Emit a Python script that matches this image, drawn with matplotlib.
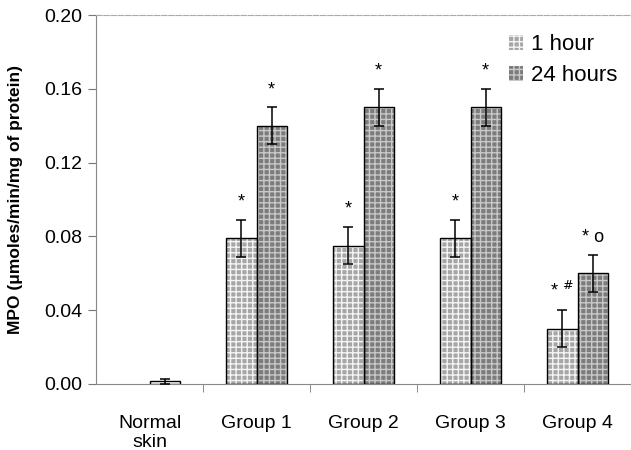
import numpy as np
import matplotlib
matplotlib.use("Agg")
import matplotlib.pyplot as plt
from matplotlib.patches import Patch

plt.rcParams['font.family'] = ['Liberation Sans', 'DejaVu Sans']
plt.rcParams['hatch.linewidth'] = 1.0

# --------------
# data
# --------------
categories = ["Normal\nskin", "Group 1", "Group 2", "Group 3", "Group 4"]
hour1 = [np.nan, 0.079, 0.075, 0.079, 0.030]
hour1_err = [np.nan, 0.010, 0.010, 0.010, 0.010]
hour24 = [0.0015, 0.140, 0.150, 0.150, 0.060]
hour24_err = [0.0014, 0.010, 0.010, 0.010, 0.010]
hour1_marks = ["", "*", "*", "*", "* $^{\\#}$"]
hour24_marks = ["", "*", "*", "*", "* o"]
y_ticks = [0.00, 0.04, 0.08, 0.12, 0.16, 0.20]

# --------------
# plot
# --------------
fig = plt.figure(figsize=(6.31, 4.5), dpi=100)
ax = fig.add_axes([96 / 631, 1 - 384 / 450, 535 / 631, 369 / 450])

x = np.arange(len(categories))
w = 0.285
c1 = "#a6a6a6"
c24 = "#7c7c7c"
h1 = "#f4f4f4"
h24 = "#c8c8c8"
face24 = [("white" if i == 0 else c24) for i in range(len(categories))]

# fill + light hatch, then black outline on top
ax.bar(x - w / 2, hour1, w, color=c1, edgecolor=h1, hatch="+++", linewidth=0, zorder=2)
ax.bar(x + w / 2, hour24, w, color=face24, edgecolor=h24, hatch="+++", linewidth=0, zorder=2)
ax.bar([0 + w / 2], [hour24[0]], w, color="white", linewidth=0, zorder=2.5)
ax.bar(x - w / 2, hour1, w, fill=False, edgecolor="black", linewidth=1.0, zorder=3)
ax.bar(x + w / 2, hour24, w, fill=False, edgecolor="black", linewidth=1.0, zorder=3)

ax.errorbar(x - w / 2, hour1, yerr=hour1_err, fmt="none", ecolor="black",
            elinewidth=1.1, capsize=3.5, capthick=1.1, zorder=4)
ax.errorbar(x + w / 2, hour24, yerr=hour24_err, fmt="none", ecolor="black",
            elinewidth=1.1, capsize=3.5, capthick=1.1, zorder=4)

# significance marks
for i in range(len(categories)):
    if hour1_marks[i]:
        ax.text(x[i] - w / 2, hour1[i] + hour1_err[i] + 0.005, hour1_marks[i],
                ha="center", va="bottom", fontsize=13)
    if hour24_marks[i]:
        ax.text(x[i] + w / 2, hour24[i] + hour24_err[i] + 0.005, hour24_marks[i],
                ha="center", va="bottom", fontsize=13)

ax.set_xlim(-0.5, 4.5)
ax.set_ylim(0, 0.20)
ax.set_yticks(y_ticks)
ax.set_yticklabels(["%.2f" % t for t in y_ticks], fontsize=14)
ax.set_xticks(x)
ax.set_xticklabels(categories, fontsize=14)
ax.tick_params(axis="x", length=0, pad=22)
ax.set_xticks(x[:-1] + 0.5, minor=True)
ax.tick_params(axis="x", which="minor", length=6, color="#777777", direction="out")
ax.tick_params(axis="y", length=6, color="#777777", direction="out", pad=4)

for s in ["left", "bottom"]:
    ax.spines[s].set_color("#888888")
    ax.spines[s].set_linewidth(0.8)
ax.spines["top"].set_color("#aaaaaa")
ax.spines["top"].set_linewidth(0.8)
ax.spines["top"].set_linestyle((0, (5, 1.5)))
ax.spines["right"].set_visible(False)

ax.set_ylabel("MPO (\u03bcmoles/min/mg of protein)", fontsize=12.5, fontweight="bold")
ax.yaxis.set_label_coords(-0.137, 0.5)

handles = [Patch(facecolor=c1, edgecolor=h1, hatch="+++", linewidth=0),
           Patch(facecolor=c24, edgecolor=h24, hatch="+++", linewidth=0)]
ax.legend(handles, ["1 hour", "24 hours"], loc="upper left", bbox_to_anchor=(0.755, 0.972),
          frameon=False, fontsize=16, handlelength=0.65, handleheight=0.65,
          handletextpad=0.35, labelspacing=0.45, borderaxespad=0)

fig.savefig("out.png", dpi=100)
